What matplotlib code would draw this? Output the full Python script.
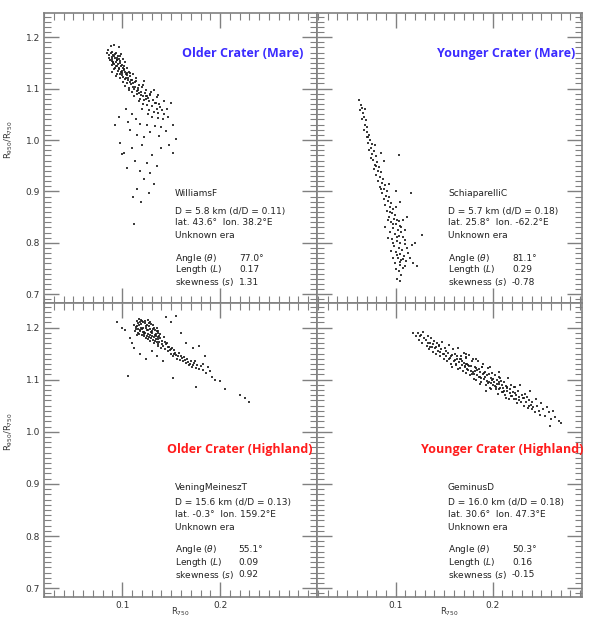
import numpy as np
import matplotlib
matplotlib.use("Agg")
import matplotlib.pyplot as plt
from matplotlib.ticker import MultipleLocator, FormatStrFormatter

# R750 / (R950/R750) point clouds
williams_x = [0.088,0.092,0.097,0.085,0.090,0.094,0.099,0.086,0.089,0.093,0.096,0.101,0.087,0.091,0.095,0.098,0.103,
              0.090,0.094,0.097,0.100,0.105,0.092,0.096,0.099,0.102,0.107,0.095,0.100,0.104,0.108,0.111,0.098,0.103,
              0.106,0.110,0.114,0.101,0.105,0.109,0.113,0.117,0.107,0.112,0.116,0.120,0.124,0.110,0.115,0.119,0.123,
              0.128,0.118,0.122,0.126,0.131,0.135,0.121,0.125,0.130,0.134,0.139,0.143,0.127,0.132,0.137,0.141,0.146,
              0.150,0.130,0.136,0.142,0.147,0.152,0.155,0.110,0.104,0.114,0.106,0.118,0.125,0.133,0.140,0.145,0.128,
              0.108,0.115,0.122,0.138,0.148,0.152,0.098,0.102,0.110,0.120,0.130,0.140,0.113,0.125,0.135,0.118,0.128,
              0.105,0.122,0.132,0.115,0.127,0.111,0.119,0.112,0.100,0.093,0.097,
              0.088,0.091,0.093,0.095,0.097,0.089,0.092,0.094,0.096,0.099,0.101,0.093,0.097,0.100,0.103,0.098,0.101,
              0.104,0.106,0.108,0.111,0.103,0.107,0.113,0.115,0.119,0.121,0.124,0.127,0.112,0.117,0.120,0.126,0.135,
              0.138,0.143,0.128,0.132,0.122,0.094,0.090,0.086,0.084,0.091,0.095,0.098,0.102,0.105,0.109,0.116,0.124,
              0.090,0.092,0.095,0.098,0.100,0.102,0.105,0.108,0.111,0.114,0.117,0.121,0.125,0.129,0.133,0.137]
williams_y = [1.182,1.185,1.180,1.175,1.172,1.170,1.168,1.166,1.162,1.160,1.163,1.158,1.155,1.152,1.155,1.150,1.152,
              1.146,1.144,1.141,1.146,1.140,1.138,1.135,1.132,1.137,1.133,1.128,1.126,1.128,1.124,1.129,1.120,1.118,
              1.121,1.116,1.120,1.112,1.110,1.108,1.112,1.107,1.102,1.100,1.098,1.103,1.097,1.093,1.090,1.088,1.092,
              1.087,1.080,1.078,1.082,1.077,1.083,1.070,1.068,1.066,1.071,1.065,1.075,1.058,1.055,1.052,1.058,1.060,
              1.072,1.045,1.042,1.040,1.045,1.030,1.001,1.050,1.060,1.040,1.035,1.032,1.030,1.028,1.025,1.018,1.015,
              1.020,1.010,1.005,1.008,0.990,0.975,0.995,0.975,0.985,0.990,0.970,0.985,0.960,0.955,0.950,0.940,0.935,
              0.945,0.925,0.915,0.905,0.897,0.889,0.880,0.837,0.972,1.030,1.045,
              1.170,1.165,1.168,1.160,1.157,1.158,1.148,1.151,1.147,1.143,1.141,1.140,1.138,1.135,1.132,1.128,1.123,
              1.121,1.117,1.113,1.110,1.105,1.098,1.104,1.095,1.094,1.085,1.080,1.075,1.085,1.075,1.060,1.050,1.060,
              1.070,1.050,1.090,1.098,1.115,1.125,1.132,1.160,1.170,1.150,1.156,1.164,1.139,1.130,1.116,1.101,1.085,
              1.154,1.163,1.144,1.153,1.131,1.144,1.126,1.130,1.103,1.115,1.092,1.107,1.086,1.094,1.072,1.088]

schia_x = [0.062,0.064,0.065,0.063,0.066,0.067,0.065,0.069,0.068,0.070,0.067,0.071,0.073,0.070,0.074,0.072,0.076,
           0.075,0.073,0.078,0.076,0.080,0.077,0.081,0.079,0.083,0.078,0.082,0.085,0.080,0.084,0.087,0.082,0.086,
           0.089,0.084,0.088,0.091,0.086,0.090,0.093,0.088,0.092,0.095,0.089,0.094,0.097,0.091,0.096,0.099,0.093,
           0.098,0.101,0.095,0.100,0.104,0.097,0.102,0.106,0.099,0.103,0.108,0.096,0.101,0.105,0.110,0.098,0.103,
           0.107,0.100,0.105,0.109,0.102,0.106,0.111,0.099,0.104,0.108,0.103,0.106,0.101,0.104,
           0.094,0.092,0.097,0.103,0.106,0.094,0.101,0.097,0.110,0.112,0.095,0.101,0.113,0.108,0.097,0.104,0.115,
           0.110,0.100,0.117,0.120,0.127,0.110,0.108,0.100,0.105,0.085,0.093,0.080,0.088,0.075,0.085,0.079,0.072,
           0.068,0.100,0.112,0.118,0.092,0.089,0.103,0.116,0.122]
schia_y = [1.078,1.068,1.062,1.058,1.052,1.045,1.040,1.038,1.030,1.025,1.020,1.015,1.010,1.005,1.000,0.995,0.992,
           0.985,0.980,0.978,0.972,0.968,0.962,0.958,0.952,0.948,0.944,0.940,0.937,0.932,0.928,0.925,0.920,0.916,
           0.912,0.908,0.904,0.900,0.896,0.892,0.889,0.885,0.881,0.878,0.874,0.870,0.866,0.862,0.858,0.855,0.851,
           0.847,0.844,0.840,0.836,0.833,0.829,0.825,0.822,0.818,0.814,0.811,0.807,0.803,0.800,0.797,0.793,0.789,
           0.786,0.782,0.778,0.775,0.771,0.767,0.764,0.760,0.756,0.752,0.745,0.738,0.730,0.725,
           0.860,0.845,0.836,0.842,0.830,0.822,0.812,0.800,0.806,0.790,0.785,0.776,0.780,0.768,0.770,0.762,0.770,
           0.755,0.750,0.795,0.800,0.816,0.825,0.845,0.870,0.880,0.905,0.915,0.950,0.960,0.965,0.975,0.990,1.005,
           1.060,0.900,0.850,0.760,0.810,0.830,0.971,0.897,0.755]

vening_x = [0.112,0.114,0.115,0.116,0.117,0.118,0.119,0.120,0.121,0.122,0.123,0.124,0.125,0.126,0.127,0.128,0.129,
            0.130,0.131,0.132,0.133,0.134,0.135,0.136,0.137,0.138,0.139,0.140,
            0.113,0.115,0.117,0.119,0.121,0.122,0.124,0.126,0.127,0.129,0.131,0.133,0.135,0.137,0.118,0.120,0.123,
            0.125,0.128,0.130,0.132,0.134,0.136,0.138,0.116,0.126,0.128,0.141,0.143,0.145,
            0.142,0.144,0.146,0.147,0.148,0.150,0.151,0.152,0.153,0.155,0.156,0.158,0.159,0.160,0.162,0.163,0.165,
            0.166,0.168,0.170,0.171,0.173,0.175,0.176,0.178,0.180,0.182,0.149,0.154,0.157,0.161,0.164,0.167,0.169,
            0.172,0.174,
            0.095,0.100,0.103,0.106,0.108,0.110,0.112,0.118,0.124,0.130,0.135,0.142,0.150,0.155,0.145,0.160,0.165,
            0.172,0.178,0.185,0.186,0.190,0.192,0.195,0.200,0.205,0.220,0.225,0.229,0.152,0.175,0.183,0.188,
            0.114,0.116,0.118,0.120,0.122,0.124,0.126,0.128,0.130,0.132,0.134,0.136,0.115,0.117,0.119,0.121,0.123,
            0.125,0.127,0.129,0.131,0.133,0.135,0.137,0.139,0.141,0.144,0.147,0.150,0.153]
vening_y = [1.205,1.198,1.212,1.190,1.204,1.196,1.215,1.185,1.200,1.192,1.208,1.180,1.195,1.188,1.203,1.175,1.191,
            1.184,1.198,1.170,1.186,1.178,1.193,1.165,1.181,1.172,1.188,1.160,
            1.193,1.203,1.188,1.206,1.211,1.183,1.199,1.214,1.182,1.207,1.176,1.196,1.172,1.190,1.210,1.197,1.190,
            1.205,1.186,1.193,1.181,1.188,1.177,1.183,1.197,1.178,1.198,1.175,1.182,1.168,
            1.165,1.158,1.170,1.155,1.163,1.150,1.160,1.145,1.156,1.148,1.140,1.152,1.138,1.146,1.135,1.143,1.132,
            1.140,1.128,1.136,1.125,1.131,1.122,1.129,1.120,1.126,1.118,1.157,1.152,1.145,1.141,1.137,1.133,1.130,
            1.128,1.135,
            1.210,1.200,1.195,1.107,1.180,1.170,1.160,1.150,1.140,1.155,1.145,1.135,1.210,1.222,1.220,1.190,1.170,
            1.160,1.165,1.145,1.112,1.117,1.105,1.100,1.098,1.082,1.070,1.065,1.057,1.103,1.085,1.130,1.125,
            1.201,1.209,1.193,1.213,1.188,1.202,1.196,1.211,1.189,1.200,1.183,1.194,1.186,1.216,1.199,1.191,1.213,
            1.183,1.209,1.179,1.204,1.175,1.199,1.168,1.179,1.168,1.172,1.162,1.158,1.150]

geminus_x = [0.118,0.121,0.123,0.124,0.126,0.127,0.129,0.128,
             0.131,0.132,0.133,0.134,0.135,0.136,0.137,0.138,0.139,0.140,0.133,
             0.141,0.142,0.143,0.144,0.145,0.146,0.147,0.148,0.149,0.150,0.142,0.146,
             0.151,0.152,0.153,0.154,0.155,0.156,0.157,0.158,0.159,0.160,0.152,0.155,0.158,
             0.161,0.162,0.163,0.164,0.165,0.166,0.167,0.168,0.169,0.170,0.161,0.163,0.166,0.168,0.170,
             0.171,0.172,0.173,0.174,0.175,0.176,0.177,0.178,0.179,0.180,0.172,0.174,0.176,0.178,0.180,0.173,
             0.181,0.182,0.183,0.184,0.185,0.186,0.187,0.188,0.189,0.190,0.182,0.184,0.186,0.188,0.190,0.183,0.187,
             0.191,0.192,0.193,0.194,0.195,0.196,0.197,0.198,0.199,0.200,0.192,0.194,0.196,0.198,0.200,0.193,0.197,
             0.201,0.202,0.203,0.204,0.205,0.206,0.207,0.208,0.209,0.210,0.202,0.204,0.206,0.208,0.210,
             0.211,0.212,0.213,0.214,0.215,0.216,0.217,0.218,0.219,0.220,0.212,0.215,0.218,
             0.221,0.222,0.223,0.224,0.225,0.226,0.227,0.228,0.229,0.230,0.224,
             0.231,0.232,0.233,0.234,0.235,0.236,0.237,0.238,0.239,0.240,
             0.241,0.242,0.244,0.245,0.246,0.248,0.249,0.250,
             0.252,0.254,0.256,0.258,0.260,0.262,0.264,0.268,0.270,0.259,
             0.125,0.135,0.145,0.150,0.157,0.162,0.167,0.171,0.175,0.179,0.183,0.187,0.191,0.195,0.199,0.203,
             0.207,0.211,0.215,0.219,0.223,0.227,0.232,0.237,0.164,0.172,0.181,0.189,0.198,0.206,0.214,0.222]
geminus_y = [1.190,1.183,1.189,1.176,1.185,1.171,1.180,1.192,
             1.176,1.165,1.184,1.158,1.171,1.179,1.162,1.168,1.153,1.174,1.170,
             1.160,1.149,1.170,1.155,1.165,1.145,1.158,1.172,1.150,1.140,1.163,1.153,
             1.160,1.146,1.135,1.152,1.166,1.141,1.130,1.148,1.158,1.136,1.155,1.140,1.125,
             1.150,1.128,1.140,1.160,1.133,1.122,1.145,1.136,1.117,1.152,1.137,1.146,1.140,1.128,1.131,
             1.124,1.141,1.112,1.130,1.119,1.147,1.108,1.126,1.135,1.115,1.130,1.121,1.127,1.117,1.139,1.150,
             1.110,1.125,1.100,1.118,1.135,1.106,1.114,1.095,1.124,1.110,1.117,1.108,1.121,1.103,1.130,1.140,1.092,
             1.101,1.115,1.090,1.108,1.122,1.096,1.083,1.104,1.113,1.089,1.106,1.097,1.110,1.094,1.101,1.078,1.125,
             1.095,1.108,1.082,1.100,1.072,1.091,1.115,1.084,1.097,1.077,1.088,1.092,1.082,1.103,1.090,
             1.083,1.096,1.070,1.088,1.079,1.103,1.063,1.075,1.090,1.068,1.078,1.086,1.082,
             1.076,1.062,1.085,1.070,1.055,1.078,1.066,1.090,1.058,1.071,1.063,
             1.064,1.050,1.073,1.057,1.067,1.045,1.060,1.078,1.052,1.043,
             1.058,1.047,1.038,1.062,1.050,1.040,1.032,1.055,
             1.043,1.030,1.048,1.037,1.025,1.040,1.028,1.020,1.017,1.012,
             1.184,1.162,1.166,1.149,1.146,1.130,1.140,1.127,1.128,1.111,1.122,1.105,1.113,1.094,1.099,1.085,
             1.095,1.077,1.083,1.069,1.074,1.060,1.064,1.050,1.121,1.143,1.101,1.124,1.082,1.105,1.065,1.085]

titles = ["Older Crater (Mare)", "Younger Crater (Mare)",
          "Older Crater (Highland)", "Younger Crater (Highland)"]
title_colors = ["#3b2bff", "#3b2bff", "#ff1c1c", "#ff1c1c"]
names = ["WilliamsF", "SchiaparelliC", "VeningMeineszT", "GeminusD"]
sizes = ["D = 5.8 km (d/D = 0.11)", "D = 5.7 km (d/D = 0.18)",
         "D = 15.6 km (d/D = 0.13)", "D = 16.0 km (d/D = 0.18)"]
coords = ["lat. 43.6\u00b0  lon. 38.2\u00b0E", "lat. 25.8\u00b0  lon. -62.2\u00b0E",
          "lat. -0.3\u00b0  lon. 159.2\u00b0E", "lat. 30.6\u00b0  lon. 47.3\u00b0E"]
angles = ["77.0\u00b0", "81.1\u00b0", "55.1\u00b0", "50.3\u00b0"]
lengths = ["0.17", "0.29", "0.09", "0.16"]
skews = ["1.31", "-0.78", "0.92", "-0.15"]
xs = [williams_x, schia_x, vening_x, geminus_x]
ys = [williams_y, schia_y, vening_y, geminus_y]

W, H = 589, 619
fig = plt.figure(figsize=(W / 100, H / 100), dpi=100)

# panel boxes in pixels: (left, top, right, bottom)
boxes = [(44, 13, 317, 303), (317, 13, 582, 303), (44, 303, 317, 597), (317, 303, 582, 597)]
xlims = [(0.020, 0.299), (0.019, 0.292), (0.020, 0.299), (0.019, 0.292)]
ylim = (0.683, 1.247)
title_pos = [(0.949, 0.862), (0.974, 0.862), (0.985, 0.50), (1.004, 0.50)]
text_x = [0.48, 0.494, 0.48, 0.494]
val_x = [0.714, 0.736, 0.711, 0.736]
grey = "#808080"

for i in range(4):
    l, t, r, b = boxes[i]
    ax = fig.add_axes([l / W, 1 - b / H, (r - l) / W, (b - t) / H])
    ax.scatter(xs[i], ys[i], s=2.2, c="#1a1a1a", marker="s", linewidths=0, alpha=0.85)
    ax.set_xlim(*xlims[i])
    ax.set_ylim(*ylim)
    ax.xaxis.set_major_locator(MultipleLocator(0.1))
    ax.xaxis.set_minor_locator(MultipleLocator(0.01))
    ax.yaxis.set_major_locator(MultipleLocator(0.1))
    ax.yaxis.set_minor_locator(MultipleLocator(0.01))
    ax.tick_params(which="both", direction="in", top=True, right=True, color=grey,
                   labelsize=6.5, labelcolor="#333333", pad=3)
    ax.tick_params(which="major", length=11, width=1)
    ax.tick_params(which="minor", length=5, width=0.8)
    for sp in ax.spines.values():
        sp.set_color(grey)
        sp.set_linewidth(1.2)
    ax.tick_params(labelleft=(i % 2 == 0), labelbottom=(i >= 2))
    ax.yaxis.set_major_formatter(FormatStrFormatter("%.1f"))
    ax.xaxis.set_major_formatter(FormatStrFormatter("%.1f"))
    if i % 2 == 0:
        ax.set_ylabel("R$_{950}$/R$_{750}$", fontsize=6, color="#333333")
        ax.yaxis.set_label_coords(-0.105, (1.0 - ylim[0]) / (ylim[1] - ylim[0]))
    if i >= 2:
        ax.set_xlabel("R$_{750}$", fontsize=6, color="#333333")
        ax.xaxis.set_label_coords(0.5, -0.028)

    ax.text(title_pos[i][0], title_pos[i][1], titles[i], transform=ax.transAxes,
            ha="right", va="center", fontsize=9, fontweight="bold",
            family="Open Sans", color=title_colors[i])

    if i < 2:
        ly = [0.376, 0.317, 0.276, 0.234, 0.155, 0.114, 0.072]
    else:
        ly = [0.371, 0.320, 0.279, 0.238, 0.160, 0.119, 0.075]
    lines = [names[i], sizes[i], coords[i], "Unknown era",
             r"Angle ($\theta$)", r"Length ($L$)", r"skewness ($s$)"]
    for k in range(7):
        ax.text(text_x[i], ly[k], lines[k], transform=ax.transAxes, ha="left", va="center",
                fontsize=6.5, color="#222222")
    for k, v in enumerate([angles[i], lengths[i], skews[i]]):
        ax.text(val_x[i], ly[4 + k], v, transform=ax.transAxes, ha="left", va="center",
                fontsize=6.5, color="#222222")

fig.savefig("out.png", dpi=100)
